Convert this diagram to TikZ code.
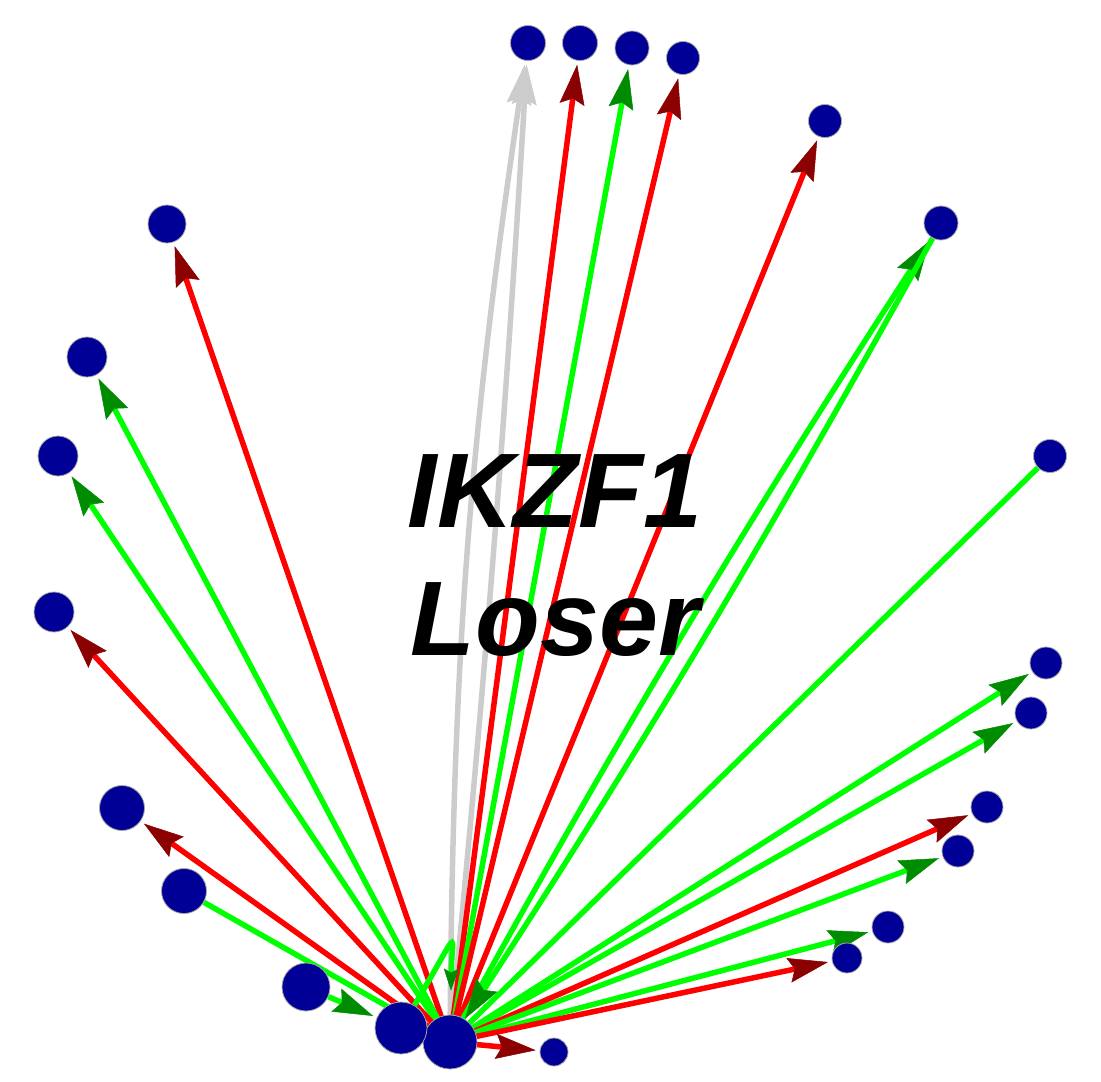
\documentclass[tikz,border=0pt]{standalone}
\usepackage{fontspec}
\setmainfont{Liberation Sans}
\usetikzlibrary{arrows.meta}
\definecolor{nodeblue}{RGB}{0,0,150}
\definecolor{posline}{RGB}{0,255,0}
\definecolor{posarrow}{RGB}{0,140,0}
\definecolor{negline}{RGB}{255,0,0}
\definecolor{negarrow}{RGB}{139,0,0}
\definecolor{grayline}{RGB}{204,204,204}
\pgfdeclarelayer{bg}
\pgfsetlayers{bg,main}
\tikzset{
  vtx/.style={circle, fill=nodeblue, draw=gray!70, line width=0.8pt, inner sep=0pt, minimum size=#1},
  edgebase/.style={line width=5.5pt},
  posE/.style={edgebase, draw=posline, -{Stealth[length=40pt,width=25pt,inset=6pt,line width=0.5pt,color=posarrow]}, shorten >=4pt},
  negE/.style={edgebase, draw=negline, -{Stealth[length=40pt,width=25pt,inset=6pt,line width=0.5pt,color=negarrow]}, shorten >=4pt},
  grayE/.style={edgebase, draw=grayline, -{Stealth[length=40pt,width=25pt,inset=6pt,line width=0.5pt,color=grayline]}, shorten >=4pt},
  posPlain/.style={edgebase, draw=posline},
}
\begin{document}
\begin{tikzpicture}[x=1pt,y=-1pt]
\useasboundingbox (0,0) rectangle (1101,1082);
% nodes
\node[vtx=35pt] (n1) at (528,43) {};
\node[vtx=35pt] (n2) at (580,43) {};
\node[vtx=34pt] (n3) at (632,48) {};
\node[vtx=33pt] (n4) at (683,58) {};
\node[vtx=33pt] (n5) at (825,121) {};
\node[vtx=34pt] (n6) at (941,223) {};
\node[vtx=33pt] (n7) at (1050,456) {};
\node[vtx=32pt] (n8) at (1046,663) {};
\node[vtx=32pt] (n9) at (1031,713) {};
\node[vtx=32pt] (n10) at (987,807) {};
\node[vtx=32pt] (n11) at (958,851) {};
\node[vtx=32pt] (n12) at (888,927) {};
\node[vtx=30pt] (n13) at (847,958) {};
\node[vtx=28pt] (n14) at (554,1052) {};
\node[vtx=54pt] (hub) at (450,1042) {};
\node[vtx=52pt] (n16) at (401,1028) {};
\node[vtx=48pt] (n17) at (306,987) {};
\node[vtx=45pt] (n18) at (184,891) {};
\node[vtx=45pt] (n19) at (122,808) {};
\node[vtx=40pt] (n20) at (54,612) {};
\node[vtx=40pt] (n21) at (58,456) {};
\node[vtx=40pt] (n22) at (87,357) {};
\node[vtx=38pt] (n23) at (167,224) {};
% edges
\begin{pgfonlayer}{bg}
\draw[grayE] (hub.center) to[bend left=4] (n1);
\draw[grayE] (hub.center) to[bend right=1] (n1);
\draw[negE] (hub.center) -- (n2);
\draw[posE] (hub.center) -- (n3);
\draw[negE] (hub.center) -- (n4);
\draw[negE] (hub.center) -- (n5);
\draw[posE] (hub.center) to[bend left=2] (n6);
\draw[posE, shorten >=28pt] (n6) to[bend left=2] (hub.center);
\draw[posPlain] (n7) -- (hub.center);
\draw[posE] (hub.center) -- (n8);
\draw[posE] (hub.center) -- (n9);
\draw[negE] (hub.center) -- (n10);
\draw[posE] (hub.center) -- (n11);
\draw[posE] (hub.center) -- (n12);
\draw[negE] (hub.center) -- (n13);
\draw[negE] (hub.center) -- (n14);
\draw[negE] (hub.center) -- (n23);
\draw[posE] (hub.center) -- (n22);
\draw[posE] (hub.center) -- (n21);
\draw[negE] (hub.center) -- (n20);
\draw[negE] (hub.center) -- (n19);
\draw[posPlain] (n18) -- (hub.center);
\draw[posE] (n17) -- (n16);
\draw[edgebase, draw=posline, -{Stealth[length=22pt,width=15pt,inset=4pt,line width=0.5pt,color=posarrow]}, shorten >=24pt]
  (n16) .. controls (462,925) and (452,930) .. (hub);
\end{pgfonlayer}
% label
\node[align=center, font={\fontsize{106}{128}\selectfont\bfseries\itshape}, inner sep=0pt] (lbl) at (555,556) {IKZF1\\Loser};
\end{tikzpicture}
\end{document}
